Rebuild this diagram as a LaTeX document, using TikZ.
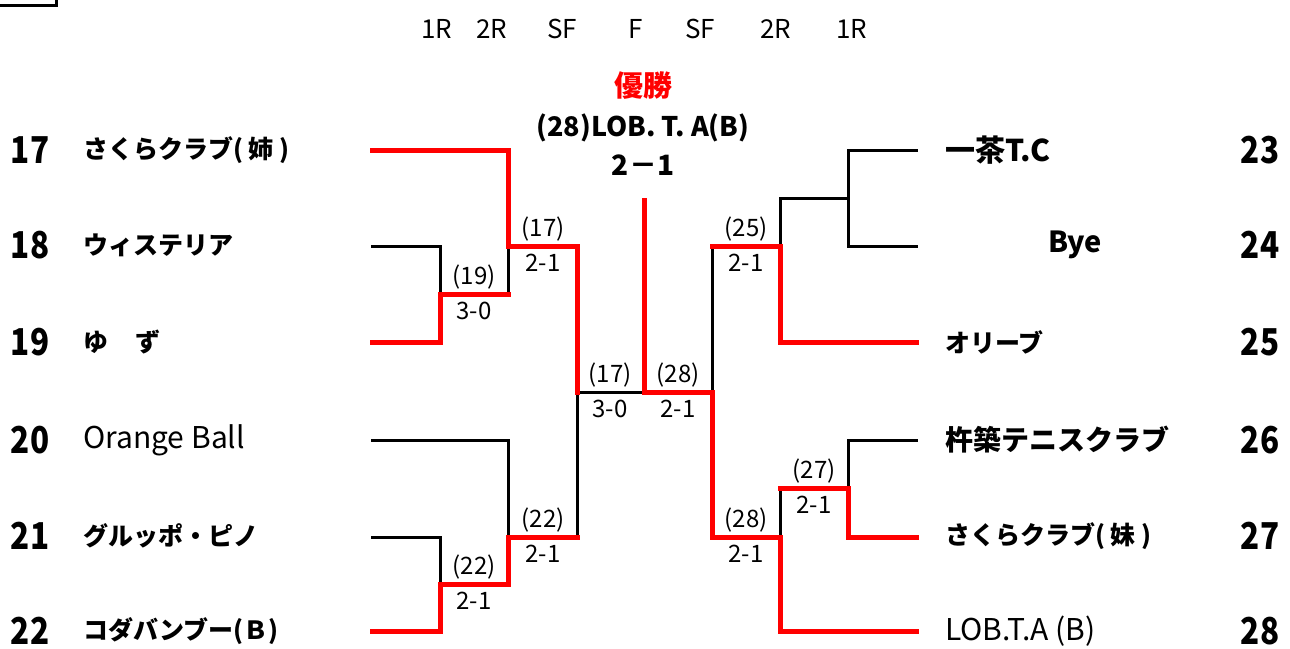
\documentclass[tikz,border=0pt]{standalone}
\usepackage{fontspec}
\newfontfamily\jp{Noto Sans CJK JP}
\newfontfamily\jpc[FakeStretch=0.85]{Noto Sans CJK JP}
\begin{document}
\begin{tikzpicture}[x=1pt,y=-1pt,
  blk/.style={line width=3pt,black,line cap=rect},
  win/.style={line width=5pt,red,line cap=rect},
  num/.style={font=\jpc\bfseries\fontsize{37}{40}\selectfont,inner sep=0pt},
  team/.style={font=\jp\bfseries\fontsize{25}{28}\selectfont,anchor=west,inner sep=0pt},
  lat/.style={font=\jp\fontsize{30}{32}\selectfont},
  hdr/.style={font=\jp\fontsize{26}{28}\selectfont,inner sep=0pt},
  score/.style={font=\jp\fontsize{24}{26}\selectfont,inner sep=0pt}]
\useasboundingbox (0,0) rectangle (1290,648);
% corner box fragment
\draw[line width=3pt] (0,5.5) -- (56,5.5) -- (56,0);
% header
\foreach \t/\x [count=\i] in {1R/437,2R/492,SF/562,F/636,SF/700,2R/776,1R/852}
  \node[hdr] (h\i) at (\x,29) {\t};
% champion
\node[font=\jp\bfseries\fontsize{29}{30}\selectfont,text=red,inner sep=0pt] (champ) at (643,86) {優勝};
\node[font=\jp\bfseries\fontsize{27}{29}\selectfont,inner sep=0pt] (champname) at (643,128) {(28)LOB. T. A(B)};
\node[font=\jp\bfseries\fontsize{28}{30}\selectfont,inner sep=0pt] (champscore) at (643,165) {2－1};
% left numbers and teams
\foreach \n/\y/\t in {17/150/さくらクラブ( 姉 ),18/245/ウィステリア,19/342/ゆ\hspace{1.1em}ず,21/536/グルッポ・ピノ,22/631/コダバンブー(Ｂ)}{
  \node[num] (n\n) at (30,\y) {\n};
  \node[team] (t\n) at (83,\y) {\t};
}
\node[num] (n20) at (30,440) {20};
\node[team,lat] (t20) at (83,440) {Orange Ball};
% right numbers and teams
\foreach \n/\y/\t in {25/342/オリーブ,27/536/さくらクラブ( 妹 )}{
  \node[num] (n\n) at (1260,\y) {\n};
  \node[team] (t\n) at (945,\y) {\t};
}
\node[num] (n23) at (1260,150) {23};
\node[team,font=\jp\bfseries\fontsize{30}{32}\selectfont] (t23) at (945,150) {一茶T.C};
\node[num] (n26) at (1260,440) {26};
\node[team,font=\jp\bfseries\fontsize{28}{30}\selectfont] (t26) at (945,440) {杵築テニスクラブ};
\node[num] (n28) at (1260,631) {28};
\node[team,lat] (t28) at (945,631) {LOB.T.A (B)};
\node[num] (n24) at (1260,245) {24};
\node[font=\jp\bfseries\fontsize{29}{31}\selectfont,inner sep=0pt] (t24) at (1075,245) {Bye};
% coordinates: line ends
\coordinate (a17) at (372,150); \coordinate (a18) at (372,246);
\coordinate (a19) at (372,342); \coordinate (a20) at (372,440);
\coordinate (a21) at (372,537); \coordinate (a22) at (372,631);
\coordinate (a23) at (916,150); \coordinate (a24) at (916,246);
\coordinate (a25) at (916,342); \coordinate (a26) at (916,440);
\coordinate (a27) at (916,537); \coordinate (a28) at (916,631);
% junctions left
\coordinate (j19) at (440,294); \coordinate (j17) at (508,246);
\coordinate (jL) at (577,392); \coordinate (j22a) at (440,584);
\coordinate (j22b) at (508,537); \coordinate (jF) at (644,392);
\coordinate (top) at (644,200);
% junctions right
\coordinate (j23) at (848,198); \coordinate (j25) at (780,246);
\coordinate (jR) at (712,392); \coordinate (j27) at (848,488);
\coordinate (j28) at (780,537);
% black lines (losers)
\draw[blk] (a18) -| (j19);
\draw[blk] (j19 -| j17) -- (j17);
\draw[blk] (a20) -| (j22b);
\draw[blk] (a21) -| (j22a);
\draw[blk] (j22b -| jL) -- (jL) -- (jF);
\draw[blk] (a23) -| (j23) |- (a24);
\draw[blk] (j23) -| (j25);
\draw[blk] (j25 -| jR) -- (jR);
\draw[blk] (a26) -| (j27);
\draw[blk] (j27 -| j28) -- (j28);
% red lines (winners)
\draw[win] (a17) -| (j17) -- (j17 -| jL) -- (jL);
\draw[win] (a19) -| (j19) -- (j19 -| j17);
\draw[win] (a22) -| (j22a) -- (j22a -| j22b) -- (j22b) -- (j22b -| jL);
\draw[win] (top) -- (jF) -- (jR);
\draw[win] (a25) -| (j25) -- (j25 -| jR);
\draw[win] (a27) -| (j27) -- (j27 -| j28);
\draw[win] (a28) -| (j28) -- (j28 -| jR) -- (jR);
% score labels
\foreach \nm/\x/\y/\w/\s in {s19/474/294/(19)/3-0, s17/543/246/(17)/2-1, s17f/610/392/(17)/3-0,
  s28f/678/392/(28)/2-1, s25/746/246/(25)/2-1, s27/814/488/(27)/2-1,
  s28/746/537/(28)/2-1, s22b/543/537/(22)/2-1, s22a/474/584/(22)/2-1}{
  \node[score] (\nm w) at (\x,\y-17) {\w};
  \node[score] (\nm s) at (\x,\y+17) {\s};
}
\end{tikzpicture}
\end{document}
